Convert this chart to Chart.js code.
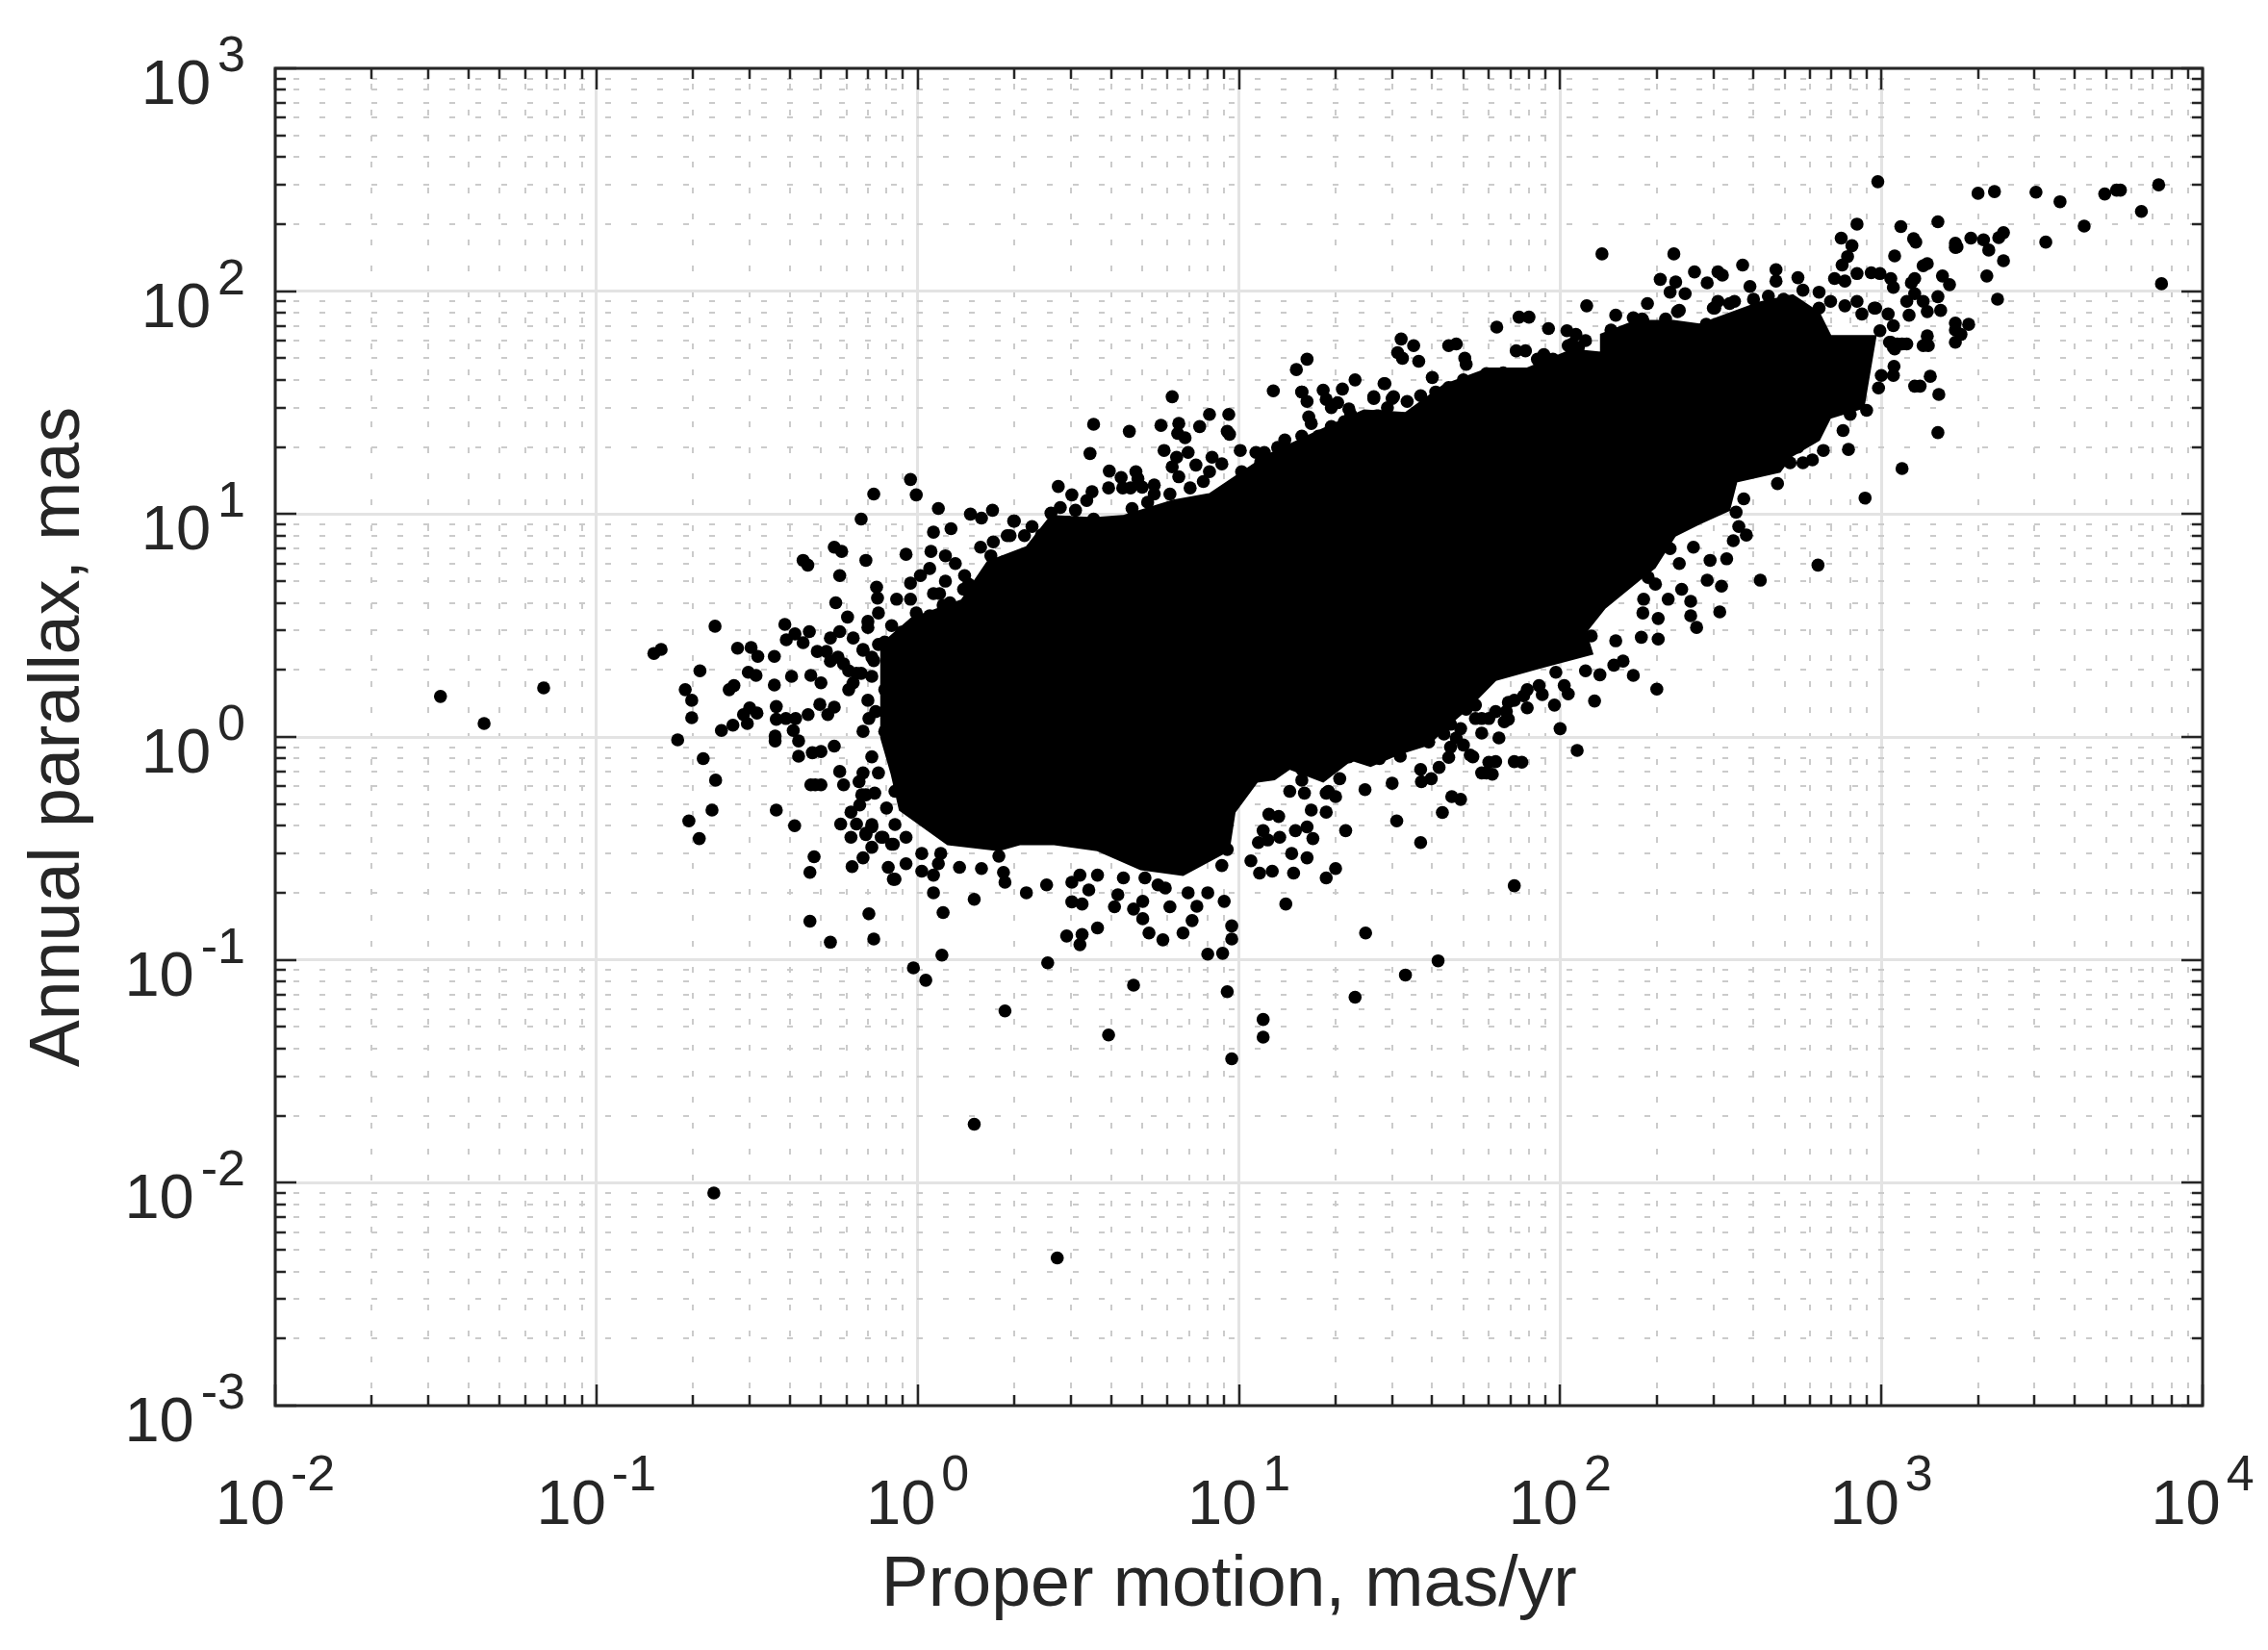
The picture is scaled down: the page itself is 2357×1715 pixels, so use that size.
<!DOCTYPE html>
<html><head><meta charset="utf-8">
<style>html,body{margin:0;padding:0;background:#fff}canvas{display:block}</style>
<script src="https://cdn.jsdelivr.net/npm/chart.js@4"></script>
</head><body><canvas id="c" width="2357" height="1715"></canvas>
<script>
// axis definition
const xMajorTicks = [0.01, 0.1, 1, 10, 100, 1000, 10000];
const yMajorTicks = [0.001, 0.01, 0.1, 1, 10, 100, 1000];
const xExponents = ['-2', '-1', '0', '1', '2', '3', '4'];
const yExponents = ['-3', '-2', '-1', '0', '1', '2', '3'];
const minorSteps = [2, 3, 4, 5, 6, 7, 8, 9];
const xTitle = 'Proper motion, mas/yr ';
const yTitle = 'Annual parallax, mas';

// envelope of the fully saturated (solid black) part of the cloud
const corePM  = [.77,.77,.77,.955,1.37,1.65,2.18,2.6,3.53,4.35,6.25,8.1,12.3,17.4,24.5,33,43.5,60,79,109,134,134,172,225,272,417,530,640,695,960,880,693,640,525,483,354,336,273,228,197,180,138,120,126,87,63,51.5,43.6,39,31.5,25.7,22.4,18.3,14.4,12.9,11.4,9.7,9.3,6.7,4.95,3.63,2.66,2.08,1.79,1.24,.88,.83,.77];
const corePlx = [.99,1.63,2.6,3.4,4.1,6.1,7.1,9.8,9.6,9.8,11.5,12.3,18.4,23.3,29.2,28.4,38,45,45,54.6,53,64,73.6,73.6,71,89,96,80,63,63,30,27,21.5,18.2,15.5,14,10.4,9.1,8,5.75,5.2,3.8,2.95,2.36,2.05,1.8,1.34,1.09,.925,.84,.74,.79,.63,.72,.645,.63,.46,.31,.24,.255,.31,.33,.33,.31,.33,.47,.68,.99];

// individually readable stars, region by region
const leftPM  = [.0327,.0447,.0685,.151,.159,.21,.189,.198,.198,.179,.245,.266,.295,.287,.30,.316,.275,.303,.318,.358,.297,.314,.259,.268,.358,.405,.363,.363,.389,.417,.456,.496,.525,.55,.36,.36,.41,.426,.426,.47,.50,.55,.215,.235,.229,.194,.209,.363,.414,.476,.462,.462,.535,.705,.73,.676,.625,.81,.84,.72,.69,.62,.576,.645,.62,.588,.657,.48,.465,.50,.70,.61,.63,.465,.50,.588,.535,.61,.487,.52,.565,.39,.44,.535,.63];
const leftPlx = [1.52,1.15,1.66,2.37,2.47,1.98,1.63,1.46,1.22,.97,1.07,1.13,1.15,1.26,1.35,1.28,2.5,2.52,2.3,2.3,1.95,1.89,1.63,1.70,1.71,1.87,1.37,1.2,1.21,1.21,1.26,1.4,1.26,1.36,1.01,.96,1.07,.96,.82,.85,.86,.91,.80,.64,.47,.42,.35,.47,.40,.29,.247,.149,.12,.161,.124,.287,.262,.26,.23,.32,.365,.355,.407,.407,.46,.61,.63,.61,.61,.61,1.46,1.63,1.75,1.89,1.75,2.13,2.19,1.98,2.42,2.42,2.28,2.73,2.65,2.78,2.78];

const leftEdgePM  = [.705,.676,.72,.755,.572,.676,.69,.66,.72,.69,.77,.83,.74,.79,.755,.81,.72,.676,.645,.72,.79,.83,.79,.83,.86,.95,1.09,.83,.89,.99,1.17,1.26,1.44,1.5,.79];
const leftEdgePlx = [1.21,1.06,.815,.69,.7,.69,.55,.495,.405,.37,.355,.33,1.3,1.3,2.6,2.35,2.28,2.47,1.93,1.87,1.63,1.43,1.06,.9,4.15,4.15,3.5,3.16,2.95,3.6,4.4,4,4.85,3.85,2.67];

const upperLeftPM  = [.95,.99,.73,.667,1.16,1.46,1.58,1.71,1.99,1.27,1.12,1.72,1.57,1.9,.92,1.1,.55,.58,.44,.455,.69,.572,.556,.605,.70,.70,.745,.75,.755,.95,1.09,1.02,1.22,1.31,1.22,1.12,1.2,1.4,1.39,1.69,1.85,.234,.386,.415,.46,.572,.676,.73,.667];
const upperLeftPlx = [14.3,12.2,12.3,9.5,10.6,10,9.6,10.4,9.3,8.6,8.3,7.5,7.1,8,6.6,6.8,7.1,6.8,6.2,5.9,6.2,5.3,4,3.45,3.1,3.3,4.7,4.2,3.6,4.9,5.7,5.3,6.5,6,5,4.4,3.9,5.3,4.6,6.5,6.1,3.14,3.2,2.9,2.97,2.97,2.45,2.2,1.93];

const upperMidPM  = [12.8,15.1,16.3,15.7,15.7,16.3,16.5,16.8,18.3,18.7,19.4,20.3,21,23,22,21.3,24.3,26.3,28.3,30,29,27.2,33.4,36.8,6.2,3.53,4.56,3.44,5.72,6.5,6.45,6.8,7.55,8.1,9.3,9.2,9.35,5.85,6.95,6.4,6.2,7.35,6.5,8.25,8.85,10.1,11.3,12,13.9,13.2,15.7,17.7,19.4,22.3,24.2,26.8,30,3.95,4.3,4.78,4.85,3.93,4.35,4.6,5,5.45,2.74,3.02,3.49,3.36,5.45,5.2,4.65,3.1,2.78,2.6,2,2.27,2.15,1.94];
const upperMidPlx = [35.7,44.5,49.5,35.3,35.3,32,27.3,25.5,36,32.7,30,31.6,36.4,40,29.6,26,26.7,33,38.5,33,30,27.6,32,34,33.6,25.3,23.5,18.7,25,25.5,23,22,24.7,28,28,23.5,22.8,19.3,18.9,18,16.3,16.6,14.7,18,16.8,19.3,18.9,18.9,21.5,19.9,22.4,22.4,24.7,28,26.7,27.6,24.7,15.6,14.6,15.5,14.4,13.1,13.1,13.1,13.2,13.5,13.3,12.2,12.6,11.5,12.3,11.3,10.6,10.4,10.7,10.1,9.3,8.8,8,8];

const upperRightPM  = [135,121,149,144,105,112,120,106,114,92,74.5,80,63.5,73,78,89,32,35,31.2,32.3,36.3,45,47.5,50.5,51,40,41,45,50,59,66.5,72,28.5,26.3,30.3];
const upperRightPlx = [147,86,78,67,66.5,64,60,57,56,68,76.5,76.5,69,54,54,52,61,57,53,50,48.5,57,58,50,47,41,35.3,37,40,42.7,43,42,38.5,33.6,33.6];

const tipPM  = [975,2000,2250,3030,3600,4960,5400,5550,7300,6450,4280,3250,7450,1500,1150,840,750,810,1260,1280,1100,1700,1720,1700,1900,2080,2160,2320,2400,2400,2130,2300,1550,1630,1500,1530,1390,1350,1270,1240,1270,1200,1350,1390,1220,1700,1870,1700,1770,1700,1390,1400,1200,1120,1070,1100,1050,1090,990,950,1320,1420,1510,1500,226,205,229,220,245,187,262,287,310,320,370,470,470,550,390,400,570,640,715,770,840,930,990,1070,1090,755,785,840,770,695,640,960,870,496,445,310,303,349,287,180,213,235];
const tipPlx = [310,275,280,278,252,273,284,284,300,228,196,166,108,205,195,200,173,160,172,166,144,164,158,157,173,170,153,174,183,137,117,92,117,107,94.5,82,133,130,114,109,97.5,90,90,81,78,72,71,67,64,59,63,57,58,58,59,55,79,70,66.5,84,37.5,41.5,34.4,23.2,147,113,110,99,97.5,88,122,109,122,118,131,125,111,115,105,92,101,99,114,111,120,121,120,114,104,131,143,90,86,90,84,84,79,92,95,90,84,90,70,75,75,82];

const lowerRightPM  = [1270,1160,890,790,760,800,900,660,610,570,520,550,475,373,353,360,380,346,330,293,635,420,287,318,314,260,235,220,255,239,217,202,255,181,182,198,188,980,1000,1090,1095,1090,1160,1060,1350];
const lowerRightPlx = [37.5,16,11.8,19.5,23.7,28,29.2,19.3,17.5,17,17,20,13.7,11.7,10.2,8.8,8.05,7.6,6.3,6.2,5.9,5.05,5.05,4.75,3.64,7.1,6,7,4.06,4.6,4.15,3.4,3.5,3.6,4.15,4.85,5.2,36.8,41.9,41.9,46,56,58,59,57];

const lowerMidPM  = [72,24.8,41.7,33,23,14,18.7,20,14.6,16.3,14.8,12.7,11.6,10.9,21.5,31,36.8,43,46,49,24.7,30,36.8,42,39.7,37,59,57,61.5,60,63,72,76,113,100,96,79,88,97,103,106,128,200,169,147,157,133,120,125,149,179,202,266,64.5,57,52.5,45,39,31.8,27.4,25.4,18.7,19,20,15.7,14.4,16,16.8,18.7,20.6,17.5,15.7,12.4,13.3,11.9,11.5,12.3,13.4,15,16.3,17,49,45.6,69,68,54.5,51,57,72,79,47.5,43.5,45.6,50,53.5,22];
const lowerMidPlx = [.215,.132,.099,.0855,.068,.178,.233,.257,.30,.287,.245,.25,.245,.278,.38,.42,.336,.458,.54,.525,.58,.62,.715,.73,.65,.63,.69,.69,.68,.77,.775,.775,.77,.87,1.09,1.39,1.35,1.55,1.95,1.7,1.56,1.45,1.64,1.89,2.1,2.19,1.9,1.98,2.84,2.7,2.8,2.75,3.1,.99,1.04,.83,.81,.95,.82,.80,.83,.56,.57,.54,.64,.57,.56,.47,.46,.65,.70,.715,.45,.44,.38,.336,.345,.355,.38,.395,.35,1.09,1.14,1.2,1.3,1.39,1.33,1.21,1.46,1.63,.99,1.03,.90,.92,.815,.815];

const bottomPM  = [.85,.92,1.03,1.12,1.16,1.35,1.12,1.2,1.5,1.19,.97,1.06,2.54,4.7,9.2,1.87,3.93,11.9,11.9,9.5,1.5,.232,2.72,.67,.735,.85,.80,.97,1.06,.72,.85,.78,.92,.84,1.03,1.18,1.58,1.85,1.87,1.79,2.18,2.52,3.02,3.41,3.02,3.25,4.1,5.02,4.7,5.02,5.25,3.63,2.91,3.25,3.2,5.8,6.7,6.1,6.95,7.4,7.15,8,9,8,8.9,9.5,9.5,9.2,8.85,5.6,5.9,4.2,3.63,4.37,5.1,3.2];
const bottomPlx = [.23,.27,.25,.24,.27,.26,.2,.163,.187,.105,.092,.081,.097,.077,.072,.059,.046,.054,.045,.036,.0183,.009,.0046,.55,.56,.57,.48,.48,.47,.395,.405,.355,.355,.33,.30,.30,.257,.247,.223,.292,.2,.217,.223,.206,.182,.178,.173,.183,.169,.153,.132,.139,.128,.13,.117,.123,.132,.173,.2,.174,.15,.2,.183,.106,.107,.142,.124,.313,.265,.217,.21,.196,.24,.233,.233,.24];

const edgeBandPM  = [54.5,60,67,69,77,63,86,85,95,104,120,109,143,164,181,169,198,232,255,285,300,337,10.2,11.7,13.7,7.75,7.05,8.1,6.1,4.05,3.53,2.93,2.43];
const edgeBandPlx = [1.21,1.21,1.17,1.43,1.53,1.3,1.7,49.5,49.5,47.5,49.5,58,55,58,74,76,66.5,81,66.5,71,84,88,15.5,17.1,19.5,14,13.1,15.5,12.3,8.8,9.5,9.2,8.05];

const pmValues = [...leftPM, ...leftEdgePM, ...upperLeftPM, ...upperMidPM, ...upperRightPM, ...tipPM, ...lowerRightPM, ...lowerMidPM, ...bottomPM, ...edgeBandPM];
const plxValues = [...leftPlx, ...leftEdgePlx, ...upperLeftPlx, ...upperMidPlx, ...upperRightPlx, ...tipPlx, ...lowerRightPlx, ...lowerMidPlx, ...bottomPlx, ...edgeBandPlx];
const toPoints = (xs, ys) => xs.map((x, i) => ({x, y: ys[i]}));

const INK = '#262626';
const FONT = '"Liberation Sans", Arial, sans-serif';
const withMinors = majors => {
  const out = [];
  majors.forEach((m, i) => {
    out.push({value: m, major: true});
    if (i < majors.length - 1) minorSteps.forEach(s => out.push({value: m * s, major: false}));
  });
  return out;
};
const grid = () => ({
  drawTicks: false,
  color: c => (c.tick && c.tick.major) ? '#e3e3e3' : '#cbcbcb',
  lineWidth: c => (c.tick && c.tick.major) ? 3 : 2
});
const border = dashOffset => ({
  display: false,
  dash: c => (c.tick && c.tick.major) ? [] : [6, 21],
  dashOffset: c => (c.tick && c.tick.major) ? 0 : dashOffset
});

const frame = {
  id: 'frame',
  afterDraw(chart) {
    const {ctx, chartArea: a, scales: {x, y}} = chart;
    ctx.save();
    ctx.strokeStyle = INK;
    ctx.fillStyle = INK;
    ctx.lineWidth = 2.5;
    ctx.beginPath();
    x.ticks.forEach(t => {
      const p = Math.round(x.getPixelForValue(t.value));
      const l = t.major ? 22 : 11;
      ctx.moveTo(p, a.bottom); ctx.lineTo(p, a.bottom - l);
      ctx.moveTo(p, a.top); ctx.lineTo(p, a.top + l);
    });
    y.ticks.forEach(t => {
      const p = Math.round(y.getPixelForValue(t.value));
      const l = t.major ? 22 : 11;
      ctx.moveTo(a.left, p); ctx.lineTo(a.left + l, p);
      ctx.moveTo(a.right, p); ctx.lineTo(a.right - l, p);
    });
    ctx.stroke();
    ctx.lineWidth = 3;
    ctx.strokeRect(a.left, a.top, a.right - a.left, a.bottom - a.top);

    const big = '65px ' + FONT, small = '52px ' + FONT;
    ctx.textBaseline = 'alphabetic';
    ctx.textAlign = 'left';
    xMajorTicks.forEach((v, i) => {
      ctx.font = big; const wb = ctx.measureText('10').width;
      ctx.font = small; const ws = ctx.measureText(xExponents[i]).width;
      const p = x.getPixelForValue(v);
      const s = p - (wb + ws + 6) / 2;
      ctx.font = big; ctx.fillText('10', s, a.bottom + 123);
      ctx.font = small; ctx.fillText(xExponents[i], s + wb + 6, a.bottom + 88);
    });
    yMajorTicks.forEach((v, i) => {
      ctx.font = small; const ws = ctx.measureText(yExponents[i]).width;
      ctx.font = big; const wb = ctx.measureText('10').width;
      const p = y.getPixelForValue(v);
      const right = 255;
      ctx.font = small; ctx.fillText(yExponents[i], right - ws, p + 3);
      ctx.font = big; ctx.fillText('10', right - ws - 7 - wb, p + 37);
    });
    ctx.restore();
  }
};

new Chart(document.getElementById('c'), {
  type: 'scatter',
  data: {
    datasets: [
      {label: 'Stars', data: toPoints(pmValues, plxValues), backgroundColor: '#000', borderWidth: 0, pointRadius: 6.8},
      {label: 'Dense core', data: toPoints(corePM, corePlx), showLine: true, fill: 'shape', backgroundColor: '#000', borderColor: '#000', borderWidth: 2, pointRadius: 0, tension: 0}
    ]
  },
  options: {
    responsive: false,
    animation: false,
    layout: {padding: {top: 71, right: 68, left: 0, bottom: 0}},
    plugins: {legend: {display: false}, title: {display: false}, tooltip: {enabled: false}},
    scales: {
      x: {
        type: 'logarithmic', min: 0.01, max: 10000,
        afterBuildTicks: s => { s.ticks = withMinors(xMajorTicks); },
        afterFit: s => { s.height = 254; },
        ticks: {display: false, autoSkip: false},
        grid: grid(), border: border(11),
        title: {display: true, text: xTitle, color: INK, font: {family: FONT, size: 73.5}, padding: {top: 0, bottom: 22}}
      },
      y: {
        type: 'logarithmic', min: 0.001, max: 1000,
        afterBuildTicks: s => { s.ticks = withMinors(yMajorTicks); },
        afterFit: s => { s.width = 286; },
        ticks: {display: false, autoSkip: false},
        grid: grid(), border: border(8),
        title: {display: true, text: yTitle, color: INK, font: {family: FONT, size: 73.5}, padding: {top: 18, bottom: 0}}
      }
    }
  },
  plugins: [frame]
});
</script></body></html>
